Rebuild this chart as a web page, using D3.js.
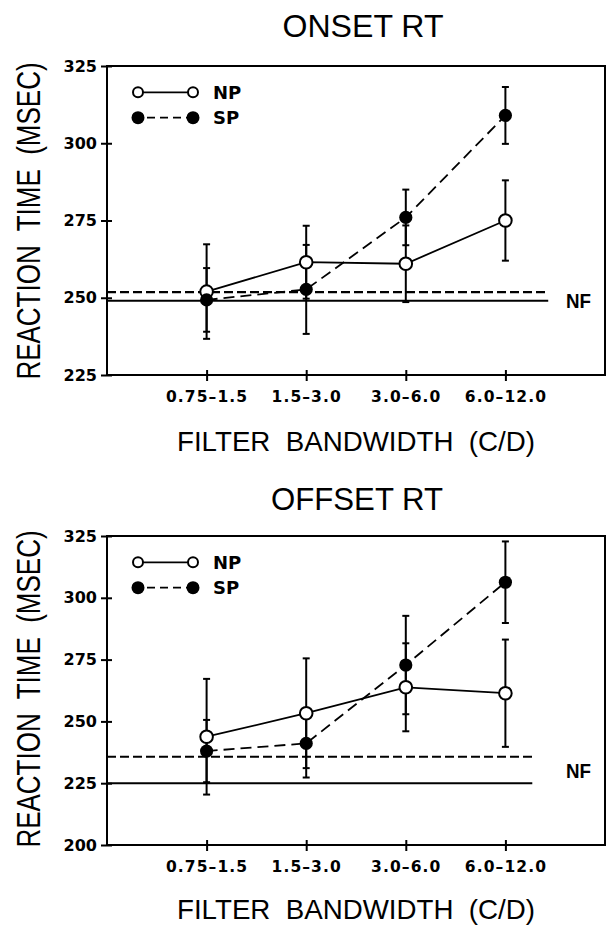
<!DOCTYPE html>
<html><head><meta charset="utf-8">
<script src="https://cdn.jsdelivr.net/npm/d3@7"></script>
<style>body{margin:0;background:#fff} svg{display:block;background:#fff}</style>
</head><body><svg id="c" width="607" height="926"></svg>
<script>
// ---- data ----
const categories = ["0.75–1.5", "1.5–3.0", "3.0–6.0", "6.0–12.0"];
const seriesNames = ["NP", "SP"];

const onsetNP    = [252.0, 261.5, 261.0, 275.0];
const onsetNPErr = [15.3, 11.8, 12.4, 13.0];
const onsetSP    = [249.3, 252.7, 276.0, 309.0];
const onsetSPErr = [10.3, 14.4, 9.0, 9.2];
const onsetNF    = [249.0, 251.8];   // NP (solid), SP (dashed)
const onsetTicks = [225, 250, 275, 300, 325];

const offsetNP    = [243.8, 253.3, 263.8, 261.4];
const offsetNPErr = [23.4, 22.2, 17.8, 21.7];
const offsetSP    = [238.0, 241.1, 272.8, 306.3];
const offsetSPErr = [12.6, 13.8, 19.9, 16.5];
const offsetNF    = [225.0, 235.7];
const offsetTicks = [200, 225, 250, 275, 300, 325];

const titles = ["ONSET RT", "OFFSET RT"];
const xTitle = "FILTER  BANDWIDTH  (C/D)";
const yTitle = "REACTION  TIME  (MSEC)";
const nfLabel = "NF";

// ---- layout ----
const svg = d3.select("#c");
const L = 107, R = 605;
const panels = [
  { title: titles[0], np: onsetNP, npErr: onsetNPErr, sp: onsetSP, spErr: onsetSPErr, nf: onsetNF, ticks: onsetTicks,
    top: 66, bottom: 375, titleX: 363, titleY: 37, titleLen: 161, xlabY: 451, nfExt: 0.43, nfLabelAt: 249.0, ylabCY: 221 },
  { title: titles[1], np: offsetNP, npErr: offsetNPErr, sp: offsetSP, spErr: offsetSPErr, nf: offsetNF, ticks: offsetTicks,
    top: 536, bottom: 845, titleX: 357, titleY: 510, titleLen: 172, xlabY: 919, nfExt: 0.27, nfLabelAt: 230.0, ylabCY: 689 }
];

const x = d3.scalePoint().domain(categories).range([L, R]).padding(1);

panels.forEach(p => {
  const y = d3.scaleLinear().domain([p.ticks[0], p.ticks[p.ticks.length - 1]]).range([p.bottom, p.top]);
  const g = svg.append("g");

  // title
  g.append("text").attr("x", p.titleX).attr("y", p.titleY)
    .attr("text-anchor", "middle").attr("font-family", "Liberation Sans, Arial, sans-serif")
    .attr("font-size", 32).attr("textLength", p.titleLen).attr("lengthAdjust", "spacingAndGlyphs")
    .text(p.title);

  // x title
  g.append("text").attr("x", (L + R) / 2).attr("y", p.xlabY)
    .attr("text-anchor", "middle").attr("font-family", "Liberation Sans, Arial, sans-serif")
    .attr("font-size", 28).attr("textLength", 358).attr("lengthAdjust", "spacingAndGlyphs")
    .style("white-space", "pre").text(xTitle);

  // y title (glyphs stretched across the baseline to match the tall, narrow lettering)
  g.append("text").attr("transform", `translate(40,${p.ylabCY}) rotate(-90) scale(1,1.25)`)
    .attr("text-anchor", "middle").attr("font-family", "Liberation Sans, Arial, sans-serif")
    .attr("font-size", 26)
    .style("white-space", "pre").text(yTitle);

  // frame
  g.append("rect").attr("x", L).attr("y", p.top).attr("width", R - L).attr("height", p.bottom - p.top)
    .attr("fill", "none").attr("stroke", "#000").attr("stroke-width", 2);

  // y axis
  const ya = g.append("g").attr("transform", `translate(${L},0)`)
    .call(d3.axisLeft(y).tickValues(p.ticks).tickFormat(d3.format("d")).tickSize(6).tickPadding(4));
  ya.select(".domain").remove();
  ya.selectAll(".tick line").attr("x1", 5).attr("x2", -6).attr("stroke-width", 2);
  ya.selectAll(".tick text").attr("font-family", "DejaVu Sans, sans-serif").attr("font-weight", "bold")
    .attr("font-size", 16).attr("fill", "#000");

  // x axis
  const xa = g.append("g").attr("transform", `translate(0,${p.bottom})`)
    .call(d3.axisBottom(x).tickSize(6).tickPadding(10));
  xa.select(".domain").remove();
  xa.selectAll(".tick line").attr("y1", -5).attr("y2", 6).attr("stroke-width", 2);
  xa.selectAll(".tick text").attr("font-family", "DejaVu Sans, sans-serif").attr("font-weight", "bold")
    .attr("font-size", 15.5).attr("letter-spacing", "1.1px").attr("fill", "#000");

  // NF reference lines
  const nfX2 = x(categories[categories.length - 1]) + x.step() * p.nfExt;
  g.append("line").attr("x1", L).attr("x2", nfX2).attr("y1", y(p.nf[0])).attr("y2", y(p.nf[0]))
    .attr("stroke", "#000").attr("stroke-width", 2);
  g.append("line").attr("x1", L).attr("x2", nfX2).attr("y1", y(p.nf[1])).attr("y2", y(p.nf[1]))
    .attr("stroke", "#000").attr("stroke-width", 2.2).attr("stroke-dasharray", "9,4");
  g.append("text").attr("x", 566).attr("y", y(p.nfLabelAt)).attr("dy", "0.36em")
    .attr("font-family", "Liberation Sans, Arial, sans-serif").attr("font-weight", "bold")
    .attr("font-size", 21).attr("textLength", 25).attr("lengthAdjust", "spacingAndGlyphs").text(nfLabel);

  // error bars
  const errs = [[p.np, p.npErr], [p.sp, p.spErr]];
  errs.forEach(([v, e]) => {
    categories.forEach((c, i) => {
      const cx = x(c), y1 = y(v[i] - e[i]), y2 = y(v[i] + e[i]);
      g.append("line").attr("x1", cx).attr("x2", cx).attr("y1", y1).attr("y2", y2).attr("stroke", "#000").attr("stroke-width", 2);
      [y1, y2].forEach(yy => g.append("line").attr("x1", cx - 3.5).attr("x2", cx + 3.5).attr("y1", yy).attr("y2", yy)
        .attr("stroke", "#000").attr("stroke-width", 2));
    });
  });

  // series lines
  const line = d3.line().x((d, i) => x(categories[i])).y(d => y(d));
  g.append("path").attr("d", line(p.np)).attr("fill", "none").attr("stroke", "#000").attr("stroke-width", 1.8);
  g.append("path").attr("d", line(p.sp)).attr("fill", "none").attr("stroke", "#000").attr("stroke-width", 1.8)
    .attr("stroke-dasharray", "11,6");

  // markers
  g.selectAll(null).data(p.np).join("circle").attr("cx", (d, i) => x(categories[i])).attr("cy", d => y(d))
    .attr("r", 6.3).attr("fill", "#fff").attr("stroke", "#000").attr("stroke-width", 2);
  g.selectAll(null).data(p.sp).join("circle").attr("cx", (d, i) => x(categories[i])).attr("cy", d => y(d))
    .attr("r", 6.6).attr("fill", "#000");

  // legend
  const lx1 = 138, lx2 = 193, ly = [p.top + 26.3, p.top + 51.7];
  g.append("line").attr("x1", lx1 + 5).attr("x2", lx2 - 5).attr("y1", ly[0]).attr("y2", ly[0]).attr("stroke", "#000").attr("stroke-width", 1.8);
  [lx1, lx2].forEach(cx => g.append("circle").attr("cx", cx).attr("cy", ly[0]).attr("r", 5)
    .attr("fill", "#fff").attr("stroke", "#000").attr("stroke-width", 2));
  g.append("line").attr("x1", lx1 + 6).attr("x2", lx2 - 6).attr("y1", ly[1]).attr("y2", ly[1]).attr("stroke", "#000")
    .attr("stroke-width", 1.8).attr("stroke-dasharray", "8,5").attr("stroke-dashoffset", -3);
  [lx1, lx2].forEach(cx => g.append("circle").attr("cx", cx).attr("cy", ly[1]).attr("r", 6.5).attr("fill", "#000"));
  seriesNames.forEach((n, i) => g.append("text").attr("x", 213).attr("y", ly[i] + 6.6)
    .attr("font-family", "DejaVu Sans, sans-serif").attr("font-weight", "bold").attr("font-size", 18).text(n));
});
</script>
</body></html>
